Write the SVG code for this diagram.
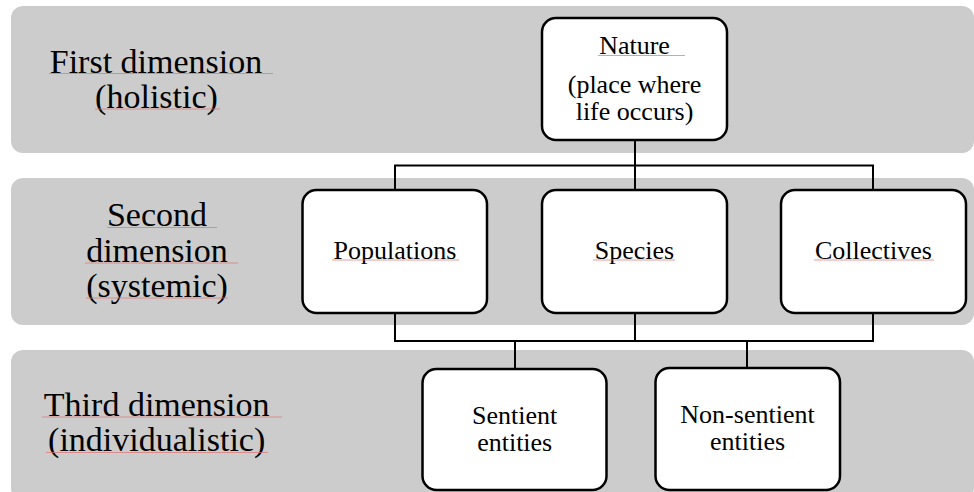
<svg xmlns="http://www.w3.org/2000/svg" width="974" height="492" viewBox="0 0 974 492">
<defs>
<style>
.band{fill:#cccccc;}
.box{fill:#ffffff;stroke:#000000;stroke-width:2.5;}
.sp{stroke:#e07070;stroke-width:1;opacity:0.7;fill:none;}
.con{stroke:#000000;stroke-width:2;fill:none;}
</style>
</defs>
<g id="bands">
<rect class="band" x="11" y="6" width="963" height="147" rx="12"/>
<rect class="band" x="11" y="178" width="963" height="147" rx="12"/>
<rect class="band" x="11" y="350" width="963" height="150" rx="12"/>
</g>
<g id="dimension-labels" font-family="Liberation Serif" font-size="34" text-anchor="middle" fill="#000000">
<text x="156" y="72.5">First dimension</text>
<text x="156.5" y="108">(holistic)</text>
<text x="157" y="226">Second</text>
<text x="157" y="261.5">dimension</text>
<text x="157" y="296.5">(systemic)</text>
<text x="156.7" y="415.5">Third dimension</text>
<text x="156.7" y="451">(individualistic)</text>
<line class="sp" x1="49" y1="73.5" x2="273" y2="73.5"/>
<line class="sp" x1="95" y1="109" x2="220" y2="109"/>
<line class="sp" x1="107" y1="227.5" x2="217" y2="227.5"/>
<line class="sp" x1="85" y1="263" x2="238" y2="263"/>
<line class="sp" x1="86" y1="298" x2="228" y2="298"/>
<line class="sp" x1="42" y1="417" x2="282" y2="417"/>
<line class="sp" x1="46" y1="452.5" x2="268" y2="452.5"/>
</g>
<g id="connectors">
<line class="con" x1="635" y1="140" x2="635" y2="190"/>
<polyline class="con" points="395,190 395,165.5 873,165.5 873,190"/>
<line class="con" x1="395" y1="313" x2="395" y2="341"/>
<line class="con" x1="635" y1="313" x2="635" y2="341"/>
<line class="con" x1="873" y1="313" x2="873" y2="341"/>
<line class="con" x1="394" y1="341" x2="874" y2="341"/>
<line class="con" x1="515" y1="341" x2="515" y2="369"/>
<line class="con" x1="747" y1="341" x2="747" y2="368" stroke-width="3.2"/>
</g>
<g id="nodes" font-family="Liberation Serif" font-size="26" text-anchor="middle" fill="#000000">
<g id="nature">
<rect class="box" x="542" y="18" width="185" height="122" rx="14"/>
<text x="634.5" y="54">Nature</text>
<text x="634.5" y="93">(place where</text>
<text x="634.5" y="119.5">life occurs)</text>
<line class="sp" x1="598" y1="55.5" x2="685" y2="55.5"/>
</g>
<g id="populations">
<rect class="box" x="302.5" y="190" width="184.5" height="123" rx="14"/>
<text x="395" y="259">Populations</text>
<line class="sp" x1="332" y1="260" x2="459" y2="260"/>
</g>
<g id="species">
<rect class="box" x="542" y="190" width="185" height="123" rx="14"/>
<text x="634.5" y="259">Species</text>
<line class="sp" x1="593" y1="260" x2="675" y2="260"/>
</g>
<g id="collectives">
<rect class="box" x="781" y="190" width="185" height="123" rx="14"/>
<text x="873.5" y="259">Collectives</text>
<line class="sp" x1="814" y1="260" x2="934" y2="260"/>
</g>
<g id="sentient">
<rect class="box" x="422.5" y="369" width="184" height="121" rx="14"/>
<text x="514.7" y="424">Sentient</text>
<text x="514.7" y="451">entities</text>
</g>
<g id="non-sentient">
<rect class="box" x="655.5" y="368" width="184.5" height="122" rx="14"/>
<text x="747.5" y="422.5">Non-sentient</text>
<text x="747.5" y="450">entities</text>
</g>
</g>
</svg>
